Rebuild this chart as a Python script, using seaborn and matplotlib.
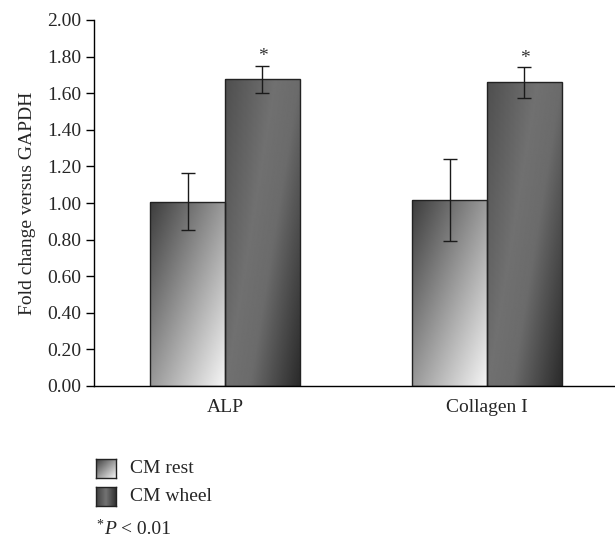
import matplotlib
matplotlib.use("Agg")
import matplotlib.pyplot as plt
import numpy as np
import pandas as pd
import seaborn as sns

# data
genes = ["ALP", "Collagen I"]
groups = ["CM rest", "CM wheel"]
rest_mean = [1.007, 1.016]
rest_err = [0.155, 0.225]
wheel_mean = [1.675, 1.66]
wheel_err = [0.075, 0.085]
star_y = [1.80, 1.79]
yticks = [0.0, 0.2, 0.4, 0.6, 0.8, 1.0, 1.2, 1.4, 1.6, 1.8, 2.0]

df = pd.DataFrame({
    "gene": genes * 2,
    "group": [groups[0]] * 2 + [groups[1]] * 2,
    "value": rest_mean + wheel_mean,
    "err": rest_err + wheel_err,
})

sns.set_style("white")
plt.rcParams["font.family"] = ["Liberation Serif", "DejaVu Serif"]
FS = 14
plt.rcParams["font.size"] = FS


def light_grad(n=200, m=60):
    u = np.linspace(0, 1, m)[None, :]
    v = np.linspace(0, 1, n)[:, None]
    t = (u + v) / 2
    return 0.24 + t * (0.96 - 0.24)


def dark_grad(n=200, m=60):
    u = np.linspace(0, 1, m)[None, :]
    v = np.linspace(0, 1, n)[:, None]
    t = (u * 1.2 + v * 0.8) / 2
    return np.interp(t, [0, 0.4, 0.6, 1.0], [0.31, 0.44, 0.42, 0.17])


fig = plt.figure(figsize=(6.15, 5.39), dpi=100)
ax = fig.add_axes([94 / 615, 153 / 539, 524 / 615, 366 / 539])

sns.barplot(data=df, x="gene", y="value", hue="group", hue_order=groups,
            order=genes, errorbar=None, width=0.572, ax=ax,
            edgecolor="#222222", linewidth=1.0, legend=False)

ax.set_xlim(-0.5, 1.5)
ax.set_ylim(0, 2.0)

bars = [p for p in ax.patches if p.get_height() > 0]
bars = sorted(bars, key=lambda p: p.get_x())
for p in bars:
    x0, w, h = p.get_x(), p.get_width(), p.get_height()
    row = df[np.isclose(df["value"], h)].iloc[0]
    img = light_grad() if row["group"] == groups[0] else dark_grad()
    im = ax.imshow(img, cmap="gray", vmin=0, vmax=1, aspect="auto",
                   extent=[x0, x0 + w, 0, h], origin="upper", zorder=1.5,
                   interpolation="bilinear")
    im.set_clip_path(p)
    p.set_facecolor("none")
    p.set_zorder(2)

# error bars and asterisks
for p in bars:
    xc = p.get_x() + p.get_width() / 2
    h = p.get_height()
    row = df[np.isclose(df["value"], h)].iloc[0]
    ax.errorbar(xc, h, yerr=row["err"], fmt="none", ecolor="#1a1a1a",
                elinewidth=1.0, capsize=5, capthick=1.0, zorder=3)
    if row["group"] == groups[1]:
        i = genes.index(row["gene"])
        ax.text(xc, star_y[i], "*", ha="center", va="center", fontsize=14,
                color="#333333")

ax.set_yticks(yticks)
ax.set_yticklabels([f"{t:.2f}" for t in yticks])
ax.set_xlabel("")
ax.set_ylabel("Fold change versus GAPDH", fontsize=FS, labelpad=8)
ax.tick_params(axis="y", direction="out", length=6, width=1, color="black",
               left=True, pad=3, labelsize=FS)
ax.tick_params(axis="x", length=0, pad=9, labelsize=FS)
for s in ["top", "right"]:
    ax.spines[s].set_visible(False)
for s in ["left", "bottom"]:
    ax.spines[s].set_color("black")
    ax.spines[s].set_linewidth(1.0)
ax.set_axisbelow(False)

# legend boxes drawn as small gradient squares
for k, (name, ytop) in enumerate(zip(groups, [459, 487])):
    lax = fig.add_axes([96 / 615, (539 - ytop - 19) / 539, 20 / 615, 19 / 539])
    if k == 0:
        img = light_grad(40, 40)
    else:
        u = np.linspace(0, 1, 40)[None, :]
        img = np.interp(u, [0, 0.5, 1], [0.25, 0.45, 0.2]) * np.ones((40, 1))
    lax.imshow(img, cmap="gray", vmin=0, vmax=1, aspect="auto")
    lax.set_xticks([])
    lax.set_yticks([])
    for s in lax.spines.values():
        s.set_color("#222222")
        s.set_linewidth(1.0)
    fig.text(130 / 615, 1 - (ytop + 9.5) / 539, name, ha="left", va="center",
             fontsize=FS)

fig.text(96 / 615, 1 - 525 / 539, "*", ha="left", va="center", fontsize=10)
fig.text(104 / 615, 1 - 529 / 539, "P", ha="left", va="center", fontsize=FS,
         style="italic")
fig.text(121 / 615, 1 - 529 / 539, "< 0.01", ha="left", va="center", fontsize=FS)

fig.savefig("out.png", dpi=100)
